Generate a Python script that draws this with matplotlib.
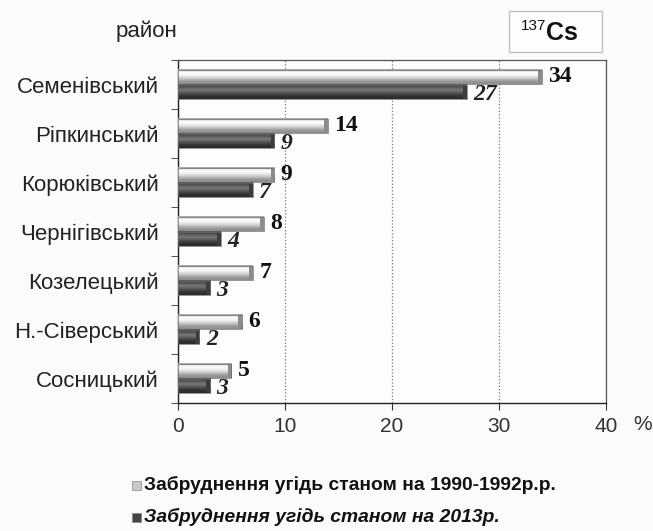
import numpy as np
import matplotlib
matplotlib.use("Agg")
import matplotlib.pyplot as plt
from matplotlib.colors import LinearSegmentedColormap
from matplotlib.patches import Rectangle

districts = ["Семенівський", "Ріпкинський", "Корюківський", "Чернігівський",
             "Козелецький", "Н.-Сіверський", "Сосницький"]
vals_1990 = [34, 14, 9, 8, 7, 6, 5]
vals_2013 = [27, 9, 7, 4, 3, 2, 3]
xticks = [0, 10, 20, 30, 40]
legend_labels = ["Забруднення угідь станом на 1990-1992р.р.",
                 "Забруднення угідь станом на 2013р."]

plt.rcParams['font.family'] = ['Liberation Sans', 'DejaVu Sans']

fig = plt.figure(figsize=(6.53, 5.31), dpi=100)
fig.patch.set_facecolor('#fbfbfb')
ax = fig.add_axes([178/653, 1-403/531, (606-178)/653, (403-60)/531])
ax.set_facecolor('#fdfdfd')

light_cmap = LinearSegmentedColormap.from_list(
    'light', ['#9a9a9a', '#ffffff', '#f4f4f4', '#d0d0d0', '#9c9c9c', '#8a8a8a'])
dark_cmap = LinearSegmentedColormap.from_list(
    'dark', ['#3a3a3a', '#555555', '#7a7a7a', '#555555', '#333333', '#2a2a2a'])
grad = np.linspace(0, 1, 64).reshape(-1, 1)

n = len(districts)
ypos = np.arange(n)
h = 0.29
off = 0.155


def draw_bar(v, yc, cmap, capcol):
    y0, y1 = yc - h/2, yc + h/2
    ax.imshow(grad, cmap=cmap, aspect='auto', extent=(0, v, y1, y0),
              origin='upper', zorder=3, interpolation='bicubic')
    cap = 0.35
    ax.add_patch(Rectangle((v - cap, y0), cap, h, facecolor=capcol,
                           edgecolor='none', zorder=4))
    ax.add_patch(Rectangle((0, y0), v, h, facecolor='none',
                           edgecolor='#6a6a6a', lw=0.5, zorder=5))


for i in range(n):
    yl = ypos[i] - off
    yd = ypos[i] + off
    draw_bar(vals_1990[i], yl, light_cmap, '#8c8c8c')
    draw_bar(vals_2013[i], yd, dark_cmap, '#3c3c3c')
    ax.text(vals_1990[i] + 0.6, yl, str(vals_1990[i]), va='center', ha='left',
            family='Liberation Serif', fontweight='bold', fontsize=17,
            color='#111111', zorder=6)
    ax.text(vals_2013[i] + 0.6, yd + 0.05, str(vals_2013[i]), va='center', ha='left',
            family='Liberation Serif', fontweight='bold', style='italic',
            fontsize=17, color='#222222', zorder=6)

ax.set_xlim(0, 40)
ax.set_ylim(n - 0.5, -0.5)
ax.set_xticks(xticks)
ax.set_xticklabels([str(t) for t in xticks], fontsize=15, color='#333333')
ax.set_yticks(ypos)
ax.set_yticklabels(districts, fontsize=16, color='#222222')
ax.tick_params(axis='y', length=0, pad=14)
ax.set_yticks(np.arange(n + 1) - 0.5, minor=True)
ax.tick_params(axis='y', which='minor', length=5, direction='out', color='#333333')
ax.tick_params(axis='x', length=5, direction='out', color='#333333', pad=5)

ax.grid(axis='x', linestyle=':', color='#777777', lw=0.9, zorder=1)
ax.set_axisbelow(True)
for s in ['left', 'bottom']:
    ax.spines[s].set_color('#222222')
    ax.spines[s].set_linewidth(1.0)
for s in ['top', 'right']:
    ax.spines[s].set_color('#555555')
    ax.spines[s].set_linewidth(0.9)

fig.text(643/653, 1-424/531, '%', fontsize=15, color='#333333', ha='center', va='center')
fig.text(146/653, 1-31/531, 'район', fontsize=16, color='#222222', ha='center', va='center')

# 137Cs box
fig.patches.append(Rectangle((509/653, 1-52/531), 93/653, 41/531, transform=fig.transFigure,
                             facecolor='#fdfdfd', edgecolor='#c0c0c0', lw=1.0))
fig.text(546/653, 1-26/531, '137', fontsize=11, color='#111111',
         ha='right', va='center')
fig.text(546/653, 1-33/531, 'Cs', fontsize=18, fontweight='bold',
         color='#111111', ha='left', va='center')

# legend
for k, (lab, col, st) in enumerate(zip(legend_labels, ['#c8c8c8', '#444444'],
                                        ['normal', 'italic'])):
    yy = 1 - (485 + 32*k)/531
    fig.patches.append(Rectangle((132/653, yy - 4.5/531), 9/653, 9/531,
                                 transform=fig.transFigure, facecolor=col,
                                 edgecolor='#888888', lw=0.5))
    fig.text(144/653, yy, lab, fontsize=13.9, fontweight='bold', style=st,
             color='#111111', ha='left', va='center')

fig.savefig('out.png', dpi=100, facecolor=fig.get_facecolor())
